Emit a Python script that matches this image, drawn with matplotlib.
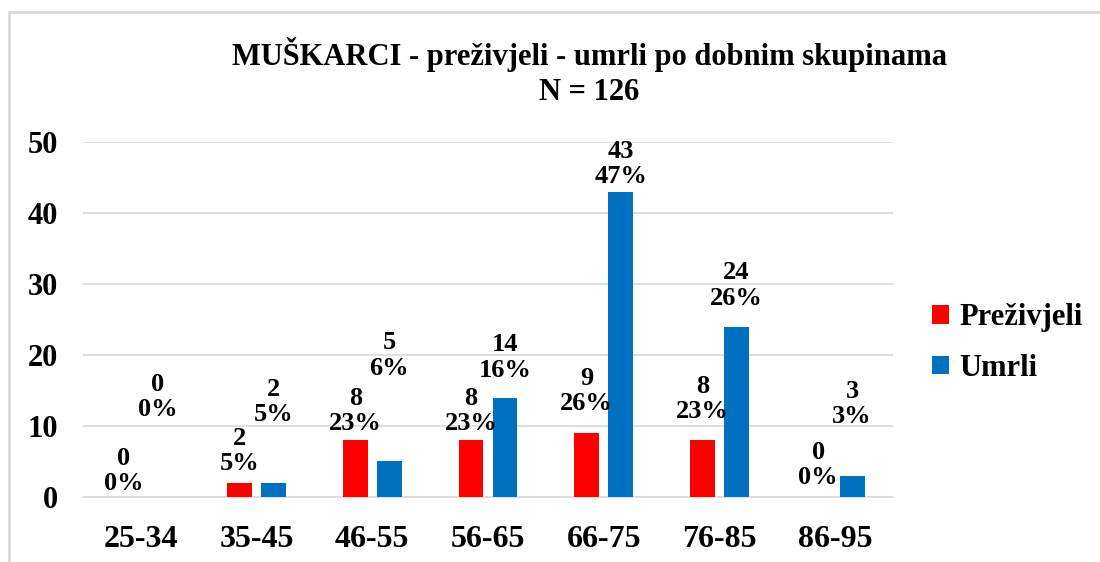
import matplotlib
matplotlib.use("Agg")
import matplotlib.pyplot as plt
import numpy as np
from matplotlib.patches import Rectangle

# data
age_groups = ["25-34", "35-45", "46-55", "56-65", "66-75", "76-85", "86-95"]
survived = [0, 2, 8, 8, 9, 8, 0]
survived_pct = ["0%", "5%", "23%", "23%", "26%", "23%", "0%"]
died = [0, 2, 5, 14, 43, 24, 3]
died_pct = ["0%", "5%", "6%", "16%", "47%", "26%", "3%"]

# label placement (pixels above bar top), as in the original Excel chart
survived_lift = [26, 32, 29, 29, 42, 41, 32]
died_lift = [100, 81, 106, 40, 28, 41, 72]

RED = "#FF0000"
BLUE = "#0070C0"

plt.rcParams['font.family'] = ['Liberation Serif', 'DejaVu Serif']
plt.rcParams['font.weight'] = 'bold'

fig = plt.figure(figsize=(11, 5.62), dpi=100)
ax = fig.add_axes([0.0755, 0.1157, 0.7363, 0.6317])

# thin grey frame around the chart area
fig.patches.append(Rectangle((9 / 1100, -0.05), 1.2, 1 - 12 / 562 + 0.05,
                             transform=fig.transFigure, fill=False,
                             edgecolor="#D9D9D9", linewidth=2))

x = np.arange(len(age_groups))
w = 0.215
off = 0.147
bars_s = ax.bar(x - off, survived, w, color=RED, label="Preživjeli", zorder=3)
bars_d = ax.bar(x + off, died, w, color=BLUE, label="Umrli", zorder=3)

for i in range(len(age_groups)):
    ax.annotate(f"{survived[i]}\n{survived_pct[i]}", (x[i] - off, survived[i]),
                xytext=(0, survived_lift[i]), textcoords="offset pixels",
                ha="center", va="center", fontsize=19, linespacing=1.12,
                fontweight="bold", zorder=4)
    ax.annotate(f"{died[i]}\n{died_pct[i]}", (x[i] + off, died[i]),
                xytext=(0, died_lift[i]), textcoords="offset pixels",
                ha="center", va="center", fontsize=19, linespacing=1.12,
                fontweight="bold", zorder=4)

ax.set_xlim(-0.5, len(age_groups) - 0.5)
ax.set_ylim(0, 50)
ax.set_yticks([0, 10, 20, 30, 40, 50])
ax.set_xticks(x)
ax.set_xticklabels(age_groups)
ax.tick_params(axis="x", labelsize=23, length=0, pad=20)
ax.tick_params(axis="y", labelsize=22, length=0, pad=18)
ax.grid(axis="y", color="#D9D9D9", linewidth=1.2, zorder=0)
for s in ["top", "right", "left"]:
    ax.spines[s].set_visible(False)
ax.spines["bottom"].set_color("#D9D9D9")
ax.spines["bottom"].set_linewidth(1.2)

fig.text(0.536, 1 - 72 / 562, "MUŠKARCI - preživjeli - umrli po dobnim skupinama\nN = 126",
         ha="center", va="center", fontsize=22, fontweight="bold", linespacing=1.3)

leg = fig.legend(handles=[bars_s, bars_d], loc="center left",
                 bbox_to_anchor=(0.822, 1 - 343 / 562), frameon=False,
                 fontsize=22, handlelength=0.55, handleheight=0.55,
                 handletextpad=0.35, labelspacing=0.7)

fig.savefig("out.png", dpi=100)
